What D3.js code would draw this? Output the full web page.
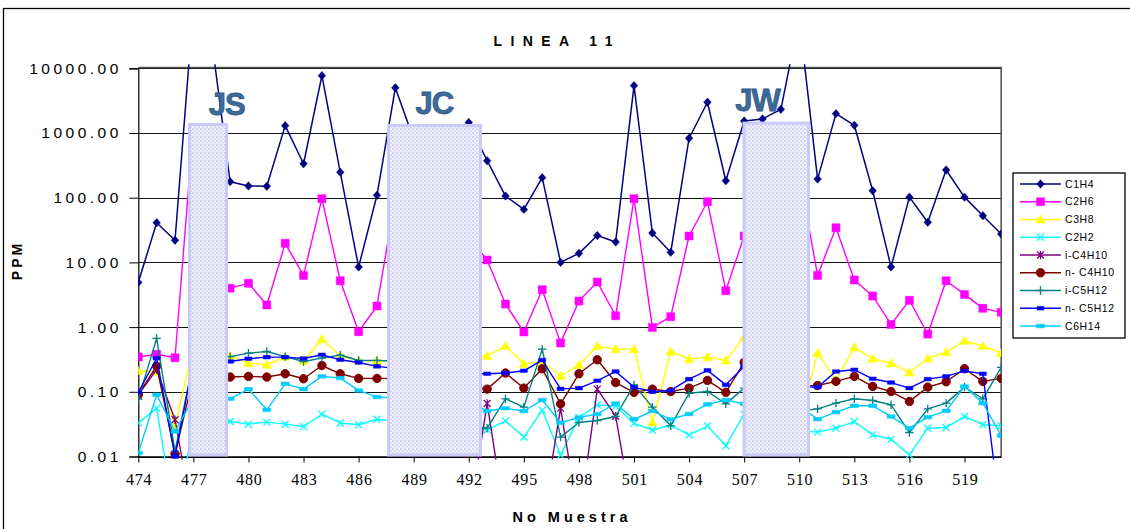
<!DOCTYPE html>
<html><head><meta charset="utf-8">
<script src="https://cdn.jsdelivr.net/npm/d3@7"></script>
<style>body{margin:0;background:#fff;} svg{display:block;}</style>
</head><body><svg id="c" width="1130" height="529"></svg>
<script>
// ---------------- DATA ----------------
const categories = [474,475,476,477,478,479,480,481,482,483,484,485,486,487,488,489,490,491,492,493,494,495,496,497,498,499,500,501,502,503,504,505,506,507,508,509,510,511,512,513,514,515,516,517,518,519,520,521];
const xTickLabels = [474,477,480,483,486,489,492,495,498,501,504,507,510,513,516,519];
const yTickValues = [0.01,0.1,1,10,100,1000,10000];

const C1H4 = [4.9,41,22,90000,27000,177,152,150,1300,335,7700,247,8.5,109,5000,800,600,900,1450,373,106,66,204,10,13.8,26,20.7,5400,28.4,14.3,830,2990,183,1530,1650,2320,60000,194,1990,1315,128,8.5,102,41.7,268,102,52.7,27.5];
const C2H6 = [0.345,0.38,0.336,1200,5,4.0,4.75,2.2,19.7,6.3,96.6,5.2,0.85,2.12,100,40,60,30,25,10.9,2.27,0.84,3.78,0.57,2.53,4.98,1.5,96.6,0.99,1.45,25.6,86.7,3.66,25.6,60,120,230,6.3,34.4,5.35,3.03,1.1,2.6,0.78,5.2,3.2,1.95,1.69];
const C3H8 = [0.21,0.206,0.030,0.5,0.35,0.36,0.277,0.262,0.35,0.30,0.65,0.36,0.305,0.30,0.3,0.35,0.4,0.35,0.35,0.36,0.51,0.27,0.29,0.177,0.26,0.51,0.457,0.457,0.0336,0.42,0.32,0.343,0.305,0.7,0.5,0.4,0.035,0.396,0.15,0.485,0.324,0.277,0.199,0.327,0.41,0.615,0.51,0.40];
const C2H2 = [0.033,0.056,0.001,0.03,0.035,0.0347,0.0316,0.034,0.0316,0.029,0.045,0.033,0.031,0.0377,0.035,0.03,0.03,0.03,0.03,0.0257,0.0355,0.020,0.052,0.0105,0.040,0.0625,0.06,0.0326,0.0257,0.0307,0.0215,0.0296,0.0147,0.045,0.03,0.03,0.025,0.0238,0.0274,0.0347,0.0216,0.0185,0.0106,0.0274,0.028,0.0416,0.031,0.0298];
const iC4H10 = [0.09,0.22,0.037,0.001,0.001,0.001,0.001,0.001,0.001,0.001,0.001,0.001,0.001,0.001,0.001,0.001,0.001,0.001,0.001,0.066,0.001,0.001,0.001,0.056,0.001,0.11,0.042,0.001,0.001,0.001,0.001,0.001,0.001,0.001,0.001,0.001,0.001,0.001,0.001,0.001,0.001,0.001,0.001,0.001,0.001,0.001,0.001,0.001];
const nC4H10 = [0.091,0.25,0.011,0.17,0.17,0.169,0.173,0.169,0.19,0.159,0.255,0.19,0.161,0.161,0.16,0.15,0.15,0.14,0.12,0.11,0.195,0.114,0.227,0.065,0.19,0.313,0.139,0.098,0.11,0.101,0.114,0.15,0.098,0.286,0.2,0.15,0.12,0.125,0.145,0.173,0.121,0.101,0.071,0.118,0.143,0.227,0.145,0.161];
const iC5H12 = [0.077,0.67,0.012,0.3,0.35,0.35,0.396,0.42,0.35,0.294,0.332,0.37,0.305,0.305,0.3,0.2,0.1,0.05,0.03,0.0274,0.078,0.058,0.457,0.0199,0.0336,0.036,0.0416,0.128,0.058,0.0298,0.095,0.101,0.065,0.114,0.08,0.06,0.05,0.0545,0.0668,0.078,0.0734,0.063,0.0235,0.0545,0.0668,0.118,0.078,0.238];
const nC5H12 = [0.098,0.33,0.01,0.3,0.3,0.294,0.324,0.343,0.343,0.327,0.373,0.313,0.284,0.247,0.23,0.22,0.21,0.2,0.19,0.19,0.195,0.211,0.309,0.111,0.114,0.148,0.206,0.118,0.1,0.105,0.157,0.214,0.128,0.247,0.2,0.15,0.12,0.118,0.206,0.219,0.159,0.139,0.114,0.157,0.173,0.211,0.19,0.001];
const C6H14 = [0.0113,0.09,0.0244,0.08,0.08,0.078,0.11,0.0527,0.133,0.11,0.173,0.163,0.105,0.083,0.08,0.08,0.08,0.08,0.07,0.0505,0.0556,0.0505,0.0746,0.0333,0.04,0.0454,0.066,0.0376,0.0505,0.0376,0.0454,0.064,0.0746,0.065,0.06,0.06,0.06,0.0378,0.0485,0.0608,0.0608,0.0416,0.0274,0.0406,0.0508,0.121,0.0668,0.021];

const seriesNames = ["C1H4","C2H6","C3H8","C2H2","i-C4H10","n- C4H10","i-C5H12","n- C5H12","C6H14"];
const seriesValues = [C1H4,C2H6,C3H8,C2H2,iC4H10,nC4H10,iC5H12,nC5H12,C6H14];
const seriesColors = ["#000080","#ff00ff","#ffff00","#00ffff","#800080","#800000","#008080","#0000ff","#00ccff"];
const seriesMarkers = ["diamond","square","triangle","x","star","circle","plus","dash","dash2"];

// shaded zones (in data units: category span and top value)
const zoneNames = ["JS","JC","JW"];
const zoneStart = [476.71,487.55,506.91];
const zoneEnd = [478.89,492.72,510.59];
const zoneTop = [1430,1380,1500];
const zoneLabelAt = [478.81,490.12,507.73];
const zoneLabelValue = [1900,1950,2210];

// ---------------- LAYOUT ----------------
const L = 138.3, R = 1001.2, T = 68.3, B = 456.5;
const svg = d3.select("#c");
const x = d3.scaleLinear().domain([categories[0], categories[categories.length-1]]).range([L, R]);
const y = d3.scaleLog().domain([0.01, 10000]).range([B, T]);
const FONT = "'Liberation Sans', Arial, sans-serif";

svg.append("rect").attr("width",1130).attr("height",529).attr("fill","#fff");
// outer chart frame
svg.append("rect").attr("x",3.5).attr("y",8.5).attr("width",1300).attr("height",700)
  .attr("fill","none").attr("stroke","#000").attr("stroke-width",1.3);

const defs = svg.append("defs");
defs.append("clipPath").attr("id","plotclip").append("rect")
  .attr("x",L).attr("y",T-4).attr("width",R-L).attr("height",B-T+7);
const pat = defs.append("pattern").attr("id","dots").attr("width",4).attr("height",4).attr("patternUnits","userSpaceOnUse");
pat.append("rect").attr("width",4).attr("height",4).attr("fill","#f1f1fc");
pat.append("circle").attr("cx",1).attr("cy",1).attr("r",1).attr("fill","#c9c9f1");
pat.append("circle").attr("cx",3).attr("cy",3).attr("r",0.9).attr("fill","#d2d2f3");

// gridlines
svg.append("g").selectAll("line").data(yTickValues).join("line")
  .attr("x1",L).attr("x2",R).attr("y1",d=>Math.round(y(d))+0.5).attr("y2",d=>Math.round(y(d))+0.5)
  .attr("stroke","#111").attr("stroke-width",1);
// plot border top/right
svg.append("path").attr("d",`M${L},${Math.round(T)-0.5}H${R}V${B}`).attr("fill","none").attr("stroke","#555").attr("stroke-width",1.6);

// Y axis
const yAxis = d3.axisLeft(y).tickValues(yTickValues).tickFormat(d3.format(".2f")).tickSize(9).tickPadding(11);
const gy = svg.append("g").attr("transform",`translate(${L},0)`).call(yAxis);
gy.select(".domain").attr("stroke","#000").attr("stroke-width",1.2);
gy.selectAll(".tick line").attr("stroke","#000");
gy.selectAll(".tick text").attr("font-family",FONT).attr("font-size",15.5).attr("letter-spacing","3.5px")
  .attr("fill","#000").attr("dx","3.5px");

// X axis
const xAxis = d3.axisBottom(x).tickValues(xTickLabels).tickFormat(d=>String(d)).tickSize(6).tickSizeOuter(0).tickPadding(6);
const gx = svg.append("g").attr("transform",`translate(0,${B})`).call(xAxis);
gx.select(".domain").attr("stroke","#000").attr("stroke-width",1.5);
gx.selectAll(".tick line").attr("stroke","#000");
gx.selectAll(".tick text").attr("font-family","'Liberation Serif','Times New Roman',serif").attr("font-size",16)
  .attr("letter-spacing","0.8px").attr("fill","#000").attr("dy","1.0em").attr("dx","0.4px");

// markers
function markerPath(type){
  switch(type){
    case "diamond": return "M0,-4.2L3.8,0L0,4.2L-3.8,0Z";
    case "square": return "M-4,-4H4V4H-4Z";
    case "triangle": return "M0,-4.6L4.8,3.6H-4.8Z";
    case "x": return "M-3.5,-3.5L3.5,3.5M-3.5,3.5L3.5,-3.5";
    case "star": return "M-3.5,-3.5L3.5,3.5M-3.5,3.5L3.5,-3.5M0,-4.2V4.2";
    case "plus": return "M-4.2,0H4.2M0,-4.2V4.2";
    case "dash": return "M-3.5,-1.8H3.5V1.8H-3.5Z";
    case "dash2": return "M-4,-1.8H4V1.8H-4Z";
  }
}
function drawMarker(sel, type, color){
  if(type==="circle"){
    sel.append("circle").attr("r",4.2).attr("fill",color).attr("stroke",color);
  } else if(type==="x"||type==="star"||type==="plus"){
    sel.append("path").attr("d",markerPath(type)).attr("fill","none").attr("stroke",color).attr("stroke-width",1.3);
  } else {
    sel.append("path").attr("d",markerPath(type)).attr("fill",color).attr("stroke",color).attr("stroke-width",0.5);
  }
}

const plot = svg.append("g").attr("clip-path","url(#plotclip)");
const line = d3.line().x((d,i)=>x(categories[i])).y(d=>y(d));
seriesValues.forEach((vals,si)=>{
  const g = plot.append("g");
  g.append("path").attr("d",line(vals)).attr("fill","none").attr("stroke",seriesColors[si])
    .attr("stroke-width", si===0?1.5:1.4).attr("stroke-linejoin","round");
  vals.forEach((v,i)=>{
    const m = g.append("g").attr("transform",`translate(${x(categories[i])},${y(v)})`);
    drawMarker(m, seriesMarkers[si], seriesColors[si]);
  });
});

// shaded zones
zoneNames.forEach((nm,i)=>{
  const x0 = x(zoneStart[i]), x1 = x(zoneEnd[i]), yt = y(zoneTop[i]);
  svg.append("rect").attr("x",x0+1.5).attr("y",yt+1.5).attr("width",x1-x0-3).attr("height",B-yt-3)
    .attr("fill","url(#dots)").attr("stroke","#cacaf7").attr("stroke-width",3);
  svg.append("text").attr("x",x(zoneLabelAt[i])).attr("y",y(zoneLabelValue[i]))
    .attr("text-anchor","middle").attr("font-family",FONT).attr("font-weight","bold").attr("font-size",31)
    .attr("letter-spacing","-1px")
    .attr("fill","#3e6a9a").attr("stroke","#2b5785").attr("stroke-width",0.8).text(nm);
});

// Titles
svg.append("text").attr("x",553+4.2).attr("y",45.5).attr("text-anchor","middle").attr("font-family",FONT)
  .attr("font-weight","bold").attr("font-size",14).attr("letter-spacing","8.4px").text("LINEA 11");
svg.append("text").attr("x",570+2).attr("y",522).attr("text-anchor","middle").attr("font-family",FONT)
  .attr("font-weight","bold").attr("font-size",14.5).attr("letter-spacing","4px").text("No Muestra");
svg.append("text").attr("transform","translate(22,262) rotate(-90)").attr("text-anchor","middle").attr("font-family",FONT)
  .attr("font-weight","bold").attr("font-size",14).attr("letter-spacing","3px").attr("dx","1.5px").text("PPM");

// Legend
const lg = svg.append("g");
lg.append("rect").attr("x",1013).attr("y",173).attr("width",112).attr("height",165)
  .attr("fill","#fff").attr("stroke","#000").attr("stroke-width",1.3);
seriesNames.forEach((nm,i)=>{
  const yy = 184 + i*17.75;
  lg.append("line").attr("x1",1020).attr("x2",1061).attr("y1",yy).attr("y2",yy)
    .attr("stroke",seriesColors[i]).attr("stroke-width",1.4);
  const m = lg.append("g").attr("transform",`translate(1040.5,${yy})`);
  drawMarker(m, seriesMarkers[i], seriesColors[i]);
  lg.append("text").attr("x",1065).attr("y",yy).attr("dy","0.35em").attr("font-family",FONT)
    .attr("font-size",10.5).attr("letter-spacing","0.6px").text(nm);
});
</script>
</body></html>
